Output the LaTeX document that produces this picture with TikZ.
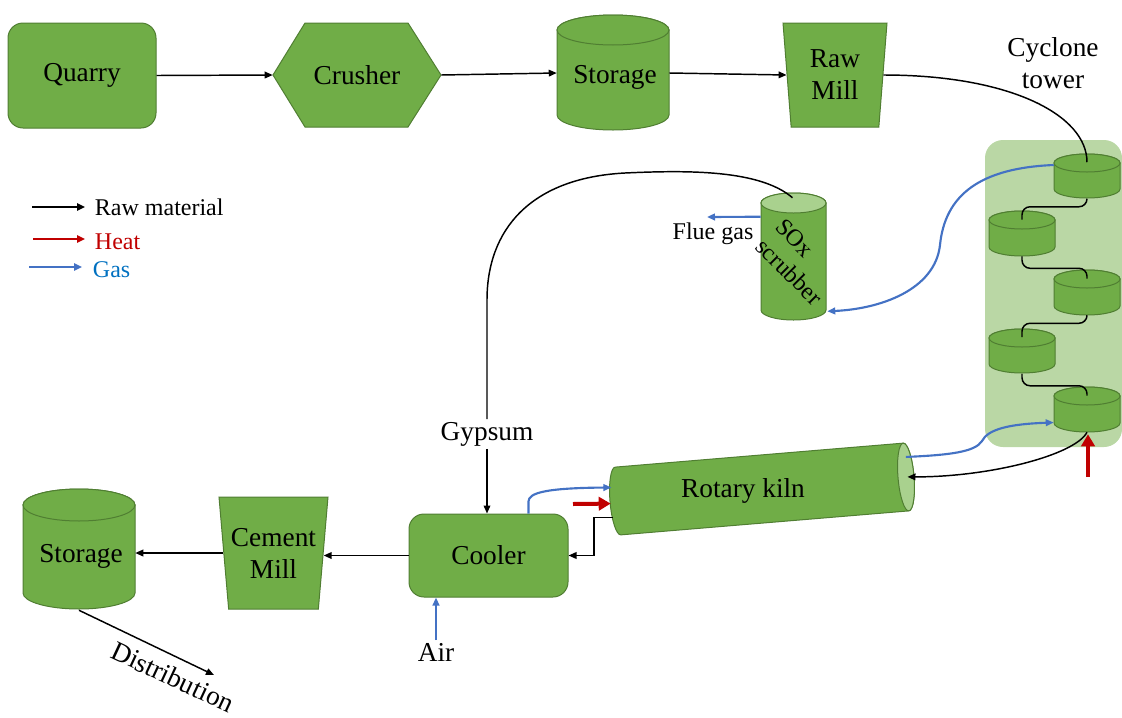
\documentclass[tikz,border=0pt]{standalone}
\usepackage{fontspec}
\setmainfont{Liberation Serif}
\usetikzlibrary{arrows.meta,calc,shapes.geometric}
\definecolor{gfill}{HTML}{70AD47}
\definecolor{gline}{HTML}{507E32}
\definecolor{glight}{HTML}{A9D18E}
\definecolor{gbg}{HTML}{BAD7A5}
\definecolor{gasblue}{HTML}{4472C4}
\definecolor{heatred}{HTML}{C00000}
\definecolor{gastext}{HTML}{0070C0}
\newcommand{\mainsize}{\fontsize{20.5}{24}\selectfont}
\newcommand{\smallsize}{\fontsize{18}{21}\selectfont}
\newcommand{\mycyl}[6]{%
  \path[fill=gfill, draw=gline, line width=0.75pt]
    (#1-#3,#2+#5) -- (#1-#3,#4-#5)
    arc[start angle=180,end angle=360,x radius=#3*0.75pt,y radius=#5*0.75pt]
    -- (#1+#3,#2+#5)
    arc[start angle=0,end angle=180,x radius=#3*0.75pt,y radius=#5*0.75pt] -- cycle;
  \path[fill=#6, draw=gline, line width=0.75pt] (#1,#2+#5) ellipse[x radius=#3*0.75pt,y radius=#5*0.75pt];
}
\tikzset{
  every node/.style={font=\mainsize, inner sep=2pt},
  greenbox/.style={rectangle, rounded corners=11.25pt, fill=gfill, draw=gline, line width=0.75pt, inner sep=0pt},
  holder/.style={rectangle, inner sep=0pt},
  millshape/.style={trapezium, trapezium angle=80.7, trapezium stretches body=true, shape border rotate=180, fill=gfill, draw=gline, line width=0.75pt, inner sep=0pt, align=center},
  flowline/.style={line width=1.1pt, black},
  flowarrow/.style={flowline, -{Triangle[length=6pt,width=5pt]}},
  gasarrow/.style={line width=1.6pt, gasblue, -{Triangle[length=6pt,width=5pt]}},
  heatarrow/.style={line width=3pt, heatred, -{Triangle[length=9pt,width=10pt]}},
  legarrow/.style={line width=1.5pt, -{Triangle[length=6pt,width=5.5pt]}}
}
\begin{document}
\begin{tikzpicture}[x=0.75pt,y=-0.75pt]
\useasboundingbox (0,0) rectangle (1122,718);
% top row
\node[greenbox, minimum width=111pt, minimum height=78.75pt] (quarry) at (82,75.5) {Quarry};
\path[fill=gfill,draw=gline,line width=0.75pt] (273,75) -- (305,23) -- (408,23) -- (441,75) -- (408,127) -- (305,127) -- cycle;
\node[holder, minimum width=126pt, minimum height=78pt] (crusher) at (357,75) {Crusher};
\mycyl{613}{15}{56}{130}{15}{gfill}
\node[holder, minimum width=84pt, minimum height=86.25pt] (storage) at (613,73) {};
\node (storagetxt) at (615,77) {Storage};
\node[millshape, minimum width=78pt, minimum height=78pt] (rawmill) at (835,75) {Raw\\Mill};
\node[align=center] (ctower) at (1053,63) {Cyclone\\tower};
\draw[flowarrow] (quarry.east) -- (crusher.west);
\draw[flowarrow] (crusher.east) -- (storage.west);
\draw[flowarrow] (storage.east) -- (rawmill.west);
% cyclone tower
\fill[gbg, rounded corners=13.5pt] (985,140) rectangle (1122,447);
\mycyl{1087}{154}{33}{198}{9}{gfill}
\mycyl{1022}{211}{33}{256}{9}{gfill}
\mycyl{1087}{270}{33}{315}{9}{gfill}
\mycyl{1022}{329}{33}{373}{9}{gfill}
\mycyl{1087}{387}{33}{432}{9}{gfill}
\node[holder, minimum width=49.5pt, minimum height=33.75pt] (c1) at (1087,176) {};
\node[holder, minimum width=49.5pt, minimum height=33.75pt] (c2) at (1022,233.5) {};
\node[holder, minimum width=49.5pt, minimum height=33.75pt] (c3) at (1087,292.5) {};
\node[holder, minimum width=49.5pt, minimum height=33.75pt] (c4) at (1022,351) {};
\node[holder, minimum width=49.5pt, minimum height=33.75pt] (c5) at (1087,409.5) {};
\draw[flowline, rounded corners=6pt] (c1.south) -- ++(0,8) -| ($(c2.north)+(0,9)$);
\draw[flowline, rounded corners=6pt] (c2.south) -- ++(0,12) -| ($(c3.north)+(0,9)$);
\draw[flowline, rounded corners=6pt] (c3.south) -- ++(0,8) -| ($(c4.north)+(0,9)$);
\draw[flowline, rounded corners=6pt] (c4.south) -- ++(0,12) -| ($(c5.north)+(0,9)$);
\draw[flowline] (rawmill.east) .. controls (1010,75) and (1087,115) .. ($(c1.north)+(0,9)$);
% scrubber
\mycyl{793.5}{193}{32.5}{320}{10}{glight}
\node[holder, minimum width=48.75pt, minimum height=95.25pt] (scrub) at (793.5,256.5) {};
\node[rotate=-45, align=left, font=\smallsize] (scrublbl) at (799,262) {SOx\\scrubber};
\node[font=\smallsize] (flue) at (713,234) {Flue gas};
\coordinate (flueend) at (707,217);
\draw[gasarrow] ($(scrub.north west)+(0,24)$) -- (flueend);
\draw[gasarrow] ($(c1.west)+(0,-11)$) .. controls (980,168) and (945,195) .. (940,245) .. controls (935,290) and (880,309) .. ($(scrub.south east)+(1,-9)$);
% gypsum
\node (gypsum) at (487,434) {Gypsum};
\draw[flowline] ($(scrub.north)+(-1,5)$) .. controls (760,170) and (690,170) .. (625,173) .. controls (530,178) and (487,230) .. (487,300) -- (gypsum.north);
% cooler
\node[greenbox, minimum width=119.25pt, minimum height=62.25pt] (cooler) at (488.5,555.5) {Cooler};
\draw[flowarrow] (gypsum.south) -- (gypsum.south |- cooler.north);
\node (air) at (436,652) {Air};
\draw[gasarrow] (air.north) -- (air.north |- cooler.south);
% kiln
\begin{scope}[shift={(762,489)}, rotate=4.76]
  \path[fill=gfill,draw=gline,line width=0.75pt] (-144.5,-34) -- (144.5,-34)
    arc[start angle=90,end angle=-90,x radius=6pt,y radius=25.5pt] -- (-144.5,34)
    arc[start angle=270,end angle=90,x radius=6pt,y radius=25.5pt] -- cycle;
  \path[fill=glight,draw=gline,line width=0.75pt] (144.5,0) ellipse[x radius=6pt,y radius=25.5pt];
  \coordinate (kilnIn) at (146,0);
  \coordinate (kilnGasOut) at (146,-20);
  \coordinate (kilnGasIn) at (-150,-14);
  \coordinate (kilnHeatIn) at (-152,2);
  \coordinate (kilnOut) at (-151,16);
\end{scope}
\node (kiln) at (743,491) {Rotary kiln};
\draw[gasarrow] ($(cooler.north east)+(-40,0)$) -- ++(0,-12) .. controls (528.5,493) and (545,488) .. (kilnGasIn);
\coordinate (heatsrc) at (573,504);
\draw[heatarrow] (heatsrc) -- (kilnHeatIn);
\draw[flowarrow] (kilnOut) -- ++(-19,0) |- (cooler.east);
\draw[gasarrow] (kilnGasOut) .. controls (950,455) and (975,452) .. (982,441) .. controls (988,429) and (1010,424) .. ($(c5.west)+(0,13)$);
\draw[flowarrow] (c5.south) .. controls (1075,455) and (990,477) .. (kilnIn);
\coordinate (heatsrc2) at (1088,477);
\draw[heatarrow] (heatsrc2) -- ($(c5.south)+(1,2)$);
% bottom row
\node[millshape, trapezium angle=79.1, minimum width=81.75pt, minimum height=84pt] (cmill) at (273.5,553) {Cement\\Mill};
\mycyl{79}{489}{56}{609}{16}{gfill}
\node[holder, minimum width=84pt, minimum height=90pt] (storage2) at (79,550) {};
\node (storage2txt) at (81,556) {Storage};
\draw[flowarrow] (cooler.west) -- (cooler.west -| cmill.east);
\draw[flowarrow] (cmill.west) -- (cmill.west -| storage2.east);
\coordinate (distend) at (214,675);
\draw[flowarrow] (storage2.south) -- (distend);
\node[rotate=-25] (dist) at (173,677) {Distribution};
% legend
\coordinate (la1) at (32,207); \coordinate (la2) at (85,207);
\draw[legarrow, black] (la1) -- (la2);
\node[anchor=west, font=\smallsize] (leg1) at (92,207) {Raw material};
\coordinate (lb1) at (33,239); \coordinate (lb2) at (85,239);
\draw[legarrow, heatred] (lb1) -- (lb2);
\node[anchor=west, font=\smallsize, text=heatred] (leg2) at (92,242) {Heat};
\coordinate (lc1) at (29,267); \coordinate (lc2) at (82,267);
\draw[legarrow, gasblue] (lc1) -- (lc2);
\node[anchor=west, font=\smallsize, text=gastext] (leg3) at (90,270) {Gas};
\end{tikzpicture}
\end{document}
